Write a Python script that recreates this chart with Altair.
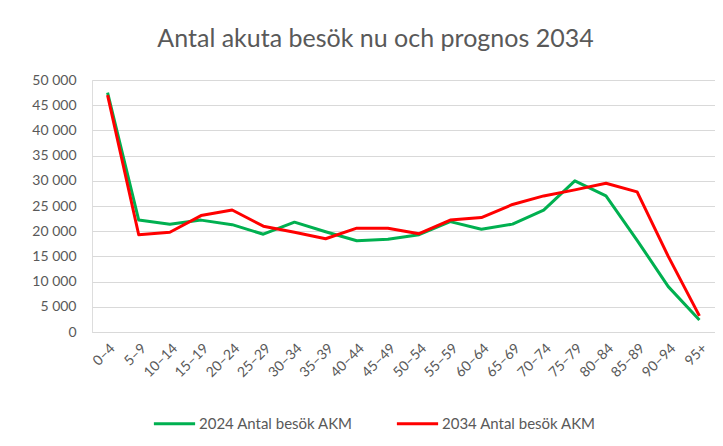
import altair as alt
import pandas as pd

categories = ["0–4", "5–9", "10–14", "15–19", "20–24", "25–29", "30–34", "35–39",
              "40–44", "45–49", "50–54", "55–59", "60–64", "65–69", "70–74", "75–79",
              "80–84", "85–89", "90–94", "95+"]
series_2024 = [47500, 22200, 21400, 22200, 21300, 19400, 21800, 19900, 18100, 18400,
               19300, 21900, 20400, 21400, 24200, 30000, 27000, 18200, 9000, 2400]
series_2034 = [47000, 19300, 19800, 23100, 24200, 21000, 19800, 18500, 20600, 20600,
               19500, 22200, 22700, 25300, 27000, 28200, 29500, 27800, 15000, 3200]
names = ["2024 Antal besök AKM", "2034 Antal besök AKM"]
colors = ["#00B050", "#FF0000"]

rows = []
for i, c in enumerate(categories):
    rows.append({"age": c, "serie": names[0], "v": series_2024[i], "order": i})
    rows.append({"age": c, "serie": names[1], "v": series_2034[i], "order": i})
df = pd.DataFrame(rows)

FONT = "Lato"
GREY = "#595959"

chart = alt.Chart(df).mark_line(strokeWidth=3, strokeJoin="round").encode(
    x=alt.X("age:N", sort=categories, title=None,
            scale=alt.Scale(type="point", padding=0.5),
            axis=alt.Axis(labelAngle=-45, labelFont=FONT, labelFontSize=14,
                          labelColor=GREY, ticks=False, domain=True,
                          domainColor="#d9d9d9", domainWidth=1, grid=False,
                          labelPadding=9)),
    y=alt.Y("v:Q", title=None,
            scale=alt.Scale(domain=[0, 50000], nice=False),
            axis=alt.Axis(values=list(range(0, 50001, 5000)), labelFont=FONT,
                          labelFontSize=14, labelColor=GREY, ticks=False,
                          domain=False, gridColor="#d9d9d9", gridWidth=1,
                          labelPadding=16,
                          labelExpr="replace(format(datum.value, ','), ',', ' ')")),
    color=alt.Color("serie:N", scale=alt.Scale(domain=names, range=colors),
                    legend=alt.Legend(orient="none", legendX=60, legendY=321,
                                      direction="horizontal", title=None,
                                      symbolType="stroke", symbolStrokeWidth=3,
                                      symbolSize=1700, labelFont=FONT,
                                      labelFontSize=15, labelColor=GREY,
                                      columnPadding=36, labelOffset=2)),
    order="order:Q",
).properties(
    width=623, height=252,
    autosize=alt.AutoSizeParams(type="none"),
    padding={"left": 84, "top": 72, "right": 0, "bottom": 106},
    title=alt.TitleParams("Antal akuta besök nu och prognos 2034", font=FONT,
                          fontSize=25, fontWeight="normal", color=GREY,
                          anchor="middle", dx=-28, offset=21),
).configure_view(stroke=None).configure(background="white")

chart.save("out.html", embed_options={"renderer": "svg", "actions": False})
